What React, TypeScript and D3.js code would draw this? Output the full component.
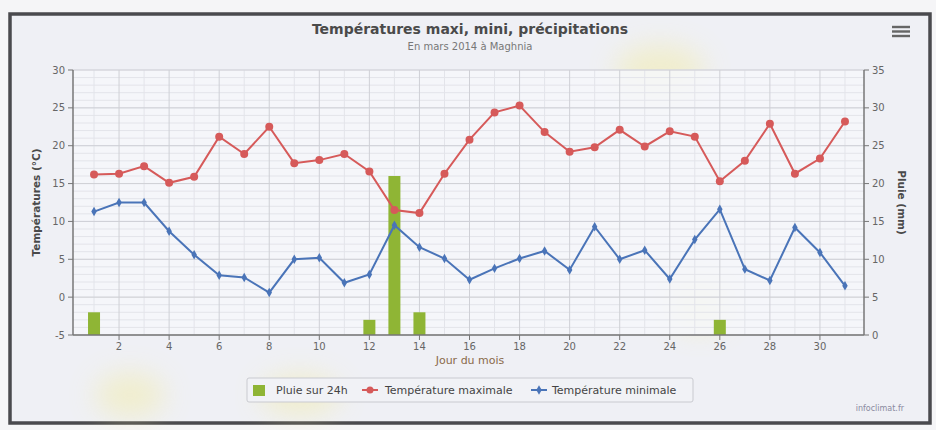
import React from "react";
import * as d3 from "d3";

const days = d3.range(1, 32);
const tMax = [16.2, 16.3, 17.3, 15.1, 15.9, 21.2, 18.9, 22.5, 17.7, 18.1, 18.9, 16.6, 11.5, 11.1, 16.3, 20.8, 24.4, 25.3, 21.8, 19.2, 19.8, 22.1, 19.9, 21.9, 21.2, 15.3, 18.0, 22.9, 16.3, 18.3, 23.2];
const tMin = [11.3, 12.5, 12.5, 8.7, 5.6, 2.9, 2.6, 0.6, 5.0, 5.2, 1.9, 3.0, 9.5, 6.6, 5.1, 2.3, 3.8, 5.1, 6.1, 3.6, 9.3, 5.0, 6.2, 2.4, 7.6, 11.6, 3.7, 2.2, 9.2, 5.9, 1.5];
const rain = [3, 0, 0, 0, 0, 0, 0, 0, 0, 0, 0, 2, 21, 3, 0, 0, 0, 0, 0, 0, 0, 0, 0, 0, 0, 2, 0, 0, 0, 0, 0];
const leftTicks = [-5, 0, 5, 10, 15, 20, 25, 30];
const rightTicks = [0, 5, 10, 15, 20, 25, 30, 35];
const xTicks = [2, 4, 6, 8, 10, 12, 14, 16, 18, 20, 22, 24, 26, 28, 30];

const title = "Températures maxi, mini, précipitations";
const subtitle = "En mars 2014 à Maghnia";
const leftTitle = "Températures (°C)";
const rightTitle = "Pluie (mm)";
const xTitle = "Jour du mois";
const legendLabels = ["Pluie sur 24h", "Température maximale", "Température minimale"];
const credit = "infoclimat.fr";

const RED = "#d65a5a";
const BLUE = "#4a74b8";
const GREEN = "#8fb535";
const FONT = "DejaVu Sans, Verdana, sans-serif";

export default function App() {
  const x = d3.scaleLinear().domain([0.16, 31.76]).range([73, 864]);
  const yL = d3.scaleLinear().domain([-5, 30]).range([335, 70]);
  const yR = d3.scaleLinear().domain([0, 35]).range([335, 70]);
  const top = 70, bottom = 335, left = 73, right = 864;

  const lineGen = d3.line<number>().x((_, i) => x(days[i])).y((d) => yL(d));
  const diamond = d3.symbol().type(d3.symbolDiamond).size(26)();

  const minorY = d3.range(-5, 31, 1);
  const oddDays = days.filter((d) => d % 2 === 1);
  const barW = 12;

  return (
    <svg width={936} height={430} style={{ position: "absolute", left: 0, top: 0 }} fontFamily={FONT}>
      <defs>
        <filter id="blur" x="-50%" y="-50%" width="200%" height="200%">
          <feGaussianBlur stdDeviation="14" />
        </filter>
      </defs>
      <rect x={0} y={0} width={936} height={430} fill="#f5f5f7" />
      <rect x={10} y={14} width={920} height={409} fill="#eff0f5" stroke="#4a4a4e" strokeWidth={3.5} />
      {/* faint yellow stains */}
      <g filter="url(#blur)" opacity={0.4}>
        <ellipse cx={660} cy={70} rx={45} ry={25} fill="#f3ea90" />
        <ellipse cx={130} cy={395} rx={35} ry={22} fill="#f3ea90" />
        <ellipse cx={300} cy={395} rx={40} ry={20} fill="#f3ea90" />
        <ellipse cx={700} cy={305} rx={30} ry={25} fill="#f3ea90" />
      </g>
      {/* plot background */}
      <rect x={left} y={top} width={right - left} height={bottom - top} fill="#f6f7fa" opacity={0.85} />
      {/* minor grid */}
      {minorY.map((v) => (
        <line key={"my" + v} x1={left} x2={right} y1={yL(v)} y2={yL(v)} stroke="#e3e4ea" strokeWidth={1} />
      ))}
      {oddDays.map((d) => (
        <line key={"mx" + d} x1={x(d)} x2={x(d)} y1={top} y2={bottom} stroke="#e3e4ea" strokeWidth={1} />
      ))}
      {/* major grid */}
      {leftTicks.map((v) => (
        <line key={"gy" + v} x1={left} x2={right} y1={yL(v)} y2={yL(v)} stroke="#cfd0d6" strokeWidth={1} />
      ))}
      {xTicks.map((d) => (
        <line key={"gx" + d} x1={x(d)} x2={x(d)} y1={top} y2={bottom} stroke="#cfd0d6" strokeWidth={1} />
      ))}
      {/* bars */}
      {rain.map((r, i) =>
        r > 0 ? (
          <rect key={"b" + i} x={x(days[i]) - barW / 2} y={yR(r)} width={barW} height={yR(0) - yR(r)} fill={GREEN} />
        ) : null
      )}
      {/* lines */}
      <path d={lineGen(tMax) || ""} fill="none" stroke={RED} strokeWidth={2} />
      <path d={lineGen(tMin) || ""} fill="none" stroke={BLUE} strokeWidth={2} />
      {tMax.map((v, i) => (
        <circle key={"c" + i} cx={x(days[i])} cy={yL(v)} r={4} fill={RED} />
      ))}
      {tMin.map((v, i) => (
        <path key={"d" + i} d={diamond || ""} transform={`translate(${x(days[i])},${yL(v)})`} fill={BLUE} />
      ))}
      {/* axes */}
      <line x1={left} x2={left} y1={top} y2={bottom} stroke="#777" strokeWidth={1.5} />
      <line x1={right} x2={right} y1={top} y2={bottom} stroke="#777" strokeWidth={1.5} />
      <line x1={left} x2={right} y1={bottom} y2={bottom} stroke="#777" strokeWidth={1.5} />
      {leftTicks.map((v) => (
        <g key={"lt" + v}>
          <line x1={left - 5} x2={left} y1={yL(v)} y2={yL(v)} stroke="#777" />
          <text x={left - 8} y={yL(v) + 3.5} textAnchor="end" fontSize={10} fill="#666">{v}</text>
        </g>
      ))}
      {rightTicks.map((v) => (
        <g key={"rt" + v}>
          <line x1={right} x2={right + 5} y1={yR(v)} y2={yR(v)} stroke="#777" />
          <text x={right + 8} y={yR(v) + 3.5} textAnchor="start" fontSize={10} fill="#666">{v}</text>
        </g>
      ))}
      {xTicks.map((d) => (
        <g key={"xt" + d}>
          <line x1={x(d)} x2={x(d)} y1={bottom} y2={bottom + 5} stroke="#777" />
          <text x={x(d)} y={bottom + 15} textAnchor="middle" fontSize={10} fill="#666">{d}</text>
        </g>
      ))}
      {/* titles */}
      <text x={470} y={34} textAnchor="middle" fontSize={14} fontWeight="bold" fill="#4a4a4a">{title}</text>
      <text x={470} y={50} textAnchor="middle" fontSize={10} fill="#777">{subtitle}</text>
      <text transform={`translate(40,${(top + bottom) / 2}) rotate(-90)`} textAnchor="middle" fontSize={10.5} fontWeight="bold" fill="#4a4a4a">{leftTitle}</text>
      <text transform={`translate(898,${(top + bottom) / 2}) rotate(90)`} textAnchor="middle" fontSize={10.5} fontWeight="bold" fill="#4a4a4a">{rightTitle}</text>
      <text x={470} y={364} textAnchor="middle" fontSize={11} fill="#8a6a4a">{xTitle}</text>
      {/* legend */}
      <rect x={247} y={378} width={446} height={24} fill="#f1f2f6" stroke="#c9cad0" strokeWidth={1} rx={2} />
      <rect x={253} y={385} width={12} height={11} fill={GREEN} />
      <text x={276} y={394} fontSize={11} fill="#444">{legendLabels[0]}</text>
      <line x1={362} x2={378} y1={390} y2={390} stroke={RED} strokeWidth={2} />
      <circle cx={370} cy={390} r={3.5} fill={RED} />
      <text x={385} y={394} fontSize={11} fill="#444">{legendLabels[1]}</text>
      <line x1={531} x2={547} y1={390} y2={390} stroke={BLUE} strokeWidth={2} />
      <path d={diamond || ""} transform="translate(539,390)" fill={BLUE} />
      <text x={552} y={394} fontSize={11} fill="#444">{legendLabels[2]}</text>
      {/* credit */}
      <text x={904} y={411} textAnchor="end" fontSize={8} fill="#8a8aa0">{credit}</text>
      {/* menu */}
      {[27, 31.5, 36].map((yy) => (
        <rect key={"m" + yy} x={892} y={yy - 1.2} width={18} height={2.4} fill="#666" />
      ))}
    </svg>
  );
}
